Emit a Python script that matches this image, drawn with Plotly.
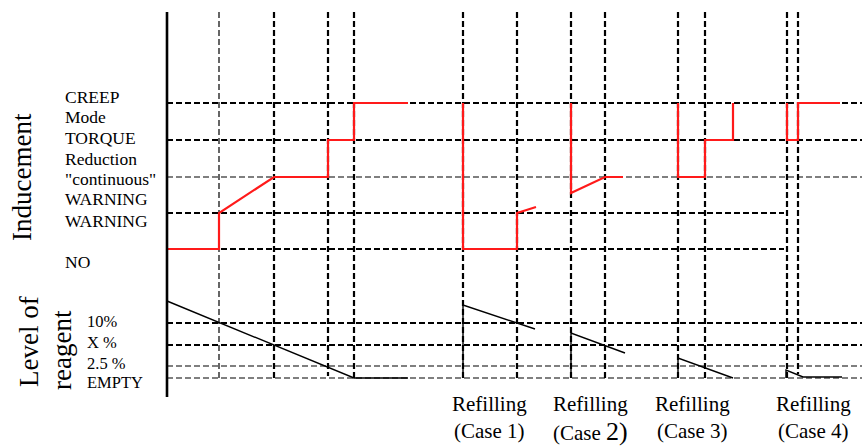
import plotly.graph_objects as go

# event times (vertical dashed markers) and their style
event_x = [219, 274, 328, 354, 463, 517, 571, 605, 678, 705, 787, 798]
event_thin = [True, False, False, False, False, False, False, False, False, False, False, False]
event_top = 12
event_bottom = [378, 378, 376, 378, 378, 378, 380, 380, 380, 380, 380, 374]

# inducement levels
ind_names = ["CREEP", "TORQUE", "continuous", "WARNING", "NO"]
ind_y = [103, 140, 177, 213, 249]
ind_thin = [False, False, True, False, False]
ind_end = [862, 862, 862, 784, 784]

# reagent levels
reag_names = ["10%", "X %", "2.5 %", "EMPTY"]
reag_y = [323, 345, 366, 378]
reag_thin = [False, False, True, True]

axis_x = 167

# inducement curve (red), one segment list per phase
ind_curves = [
    ([167, 219, 219, 274, 328, 328, 354, 354, 408], [249, 249, 213, 177, 177, 140, 140, 103, 103]),
    ([463, 463, 517, 517, 536], [103, 249, 249, 213, 207]),
    ([571, 571, 605, 623], [103, 193, 177, 177]),
    ([678, 678, 705, 705, 733, 733], [103, 177, 177, 140, 140, 103]),
    ([787, 787, 798, 798, 840], [103, 140, 140, 103, 103]),
]

# reagent level curve (black)
reag_curves = [
    ([167, 354, 408], [301, 378, 378]),
    ([463, 463, 535], [378, 305, 329]),
    ([571, 571, 625], [378, 333, 353]),
    ([678, 678, 733], [378, 358, 378]),
    ([786, 786, 803, 842], [378, 370, 377, 377]),
]

left_labels = ['CREEP', 'Mode', 'TORQUE', 'Reduction', '"continuous"', 'WARNING', 'WARNING', 'NO']
left_label_y = [97, 117, 138, 159, 179, 199, 221, 262]
reag_label_y = [321, 342, 363, 382]

refill_x = [489, 590, 692, 813]
refill_case = ["(Case 1)", "(Case <span style='font-size:26px'>2)</span>", "(Case 3)", "(Case 4)"]

FONT = "Liberation Serif"
THICK = dict(color="black", width=2.2, dash="6px,3px")
THIN = dict(color="black", width=1.2, dash="6px,3px")

fig = go.Figure()

for y, thin, xe in zip(ind_y, ind_thin, ind_end):
    fig.add_trace(go.Scatter(x=[axis_x, xe], y=[y, y], mode="lines",
                             line=THIN if thin else THICK, hoverinfo="skip"))
for y, thin in zip(reag_y, reag_thin):
    fig.add_trace(go.Scatter(x=[axis_x, 862], y=[y, y], mode="lines",
                             line=THIN if thin else THICK, hoverinfo="skip"))
for x, thin, yb in zip(event_x, event_thin, event_bottom):
    fig.add_trace(go.Scatter(x=[x, x], y=[event_top, yb], mode="lines",
                             line=THIN if thin else THICK, hoverinfo="skip"))

for xs, ys in ind_curves:
    fig.add_trace(go.Scatter(x=xs, y=ys, mode="lines",
                             line=dict(color="#ff1a1a", width=2.2), hoverinfo="skip"))
for xs, ys in reag_curves:
    fig.add_trace(go.Scatter(x=xs, y=ys, mode="lines",
                             line=dict(color="black", width=1.4), hoverinfo="skip"))

# main vertical axis
fig.add_trace(go.Scatter(x=[axis_x, axis_x], y=[12, 397], mode="lines",
                         line=dict(color="black", width=2.6), hoverinfo="skip"))

ann = []
for t, y in zip(left_labels, left_label_y):
    ann.append(dict(x=63, y=y, text=t, xanchor="left", yanchor="middle",
                    font=dict(size=17.5)))
for t, y in zip(reag_names, reag_label_y):
    ann.append(dict(x=85, y=y, text=t, xanchor="left", yanchor="middle",
                    font=dict(size=16.5)))
ann.append(dict(x=22, y=177, text="Inducement", textangle=-90, font=dict(size=27)))
ann.append(dict(x=29, y=342, text="Level of", textangle=-90, font=dict(size=27)))
ann.append(dict(x=62, y=350, text="reagent", textangle=-90, font=dict(size=27)))
for x, c in zip(refill_x, refill_case):
    ann.append(dict(x=x, y=404, text="Refilling", font=dict(size=21)))
    ann.append(dict(x=x, y=431, text=c, font=dict(size=21)))
for a in ann:
    a.update(xref="x", yref="y", showarrow=False)
    a["font"].update(family=FONT, color="black")

fig.update_layout(
    width=862, height=447,
    margin=dict(l=0, r=0, t=0, b=0),
    paper_bgcolor="white", plot_bgcolor="white",
    showlegend=False,
    xaxis=dict(range=[0, 862], visible=False, fixedrange=True),
    yaxis=dict(range=[447, 0], visible=False, fixedrange=True),
    annotations=ann,
)

fig.write_html("out.html", config={"displayModeBar": False},
               post_script="document.body.style.margin='0';")
